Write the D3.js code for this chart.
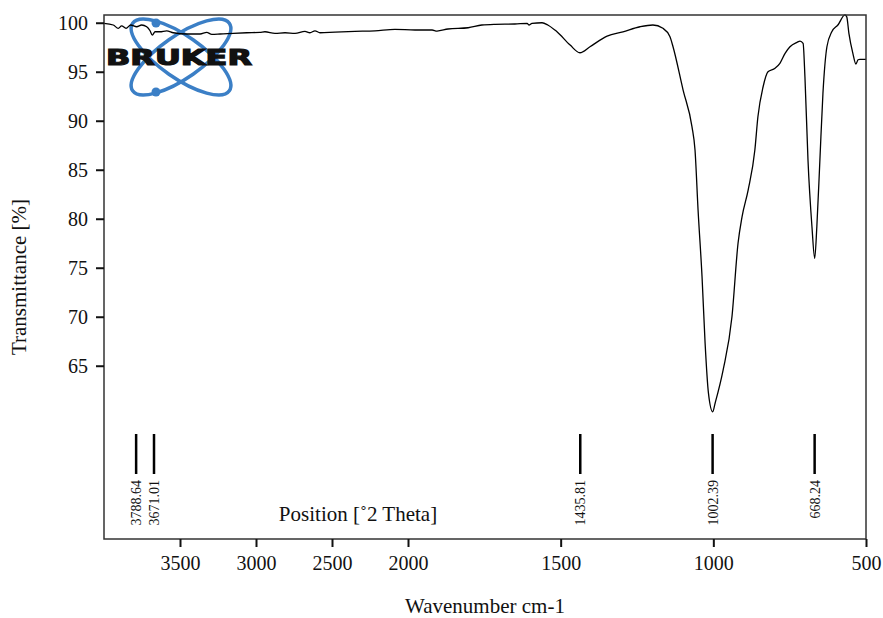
<!DOCTYPE html>
<html>
<head>
<meta charset="utf-8">
<script src="https://cdn.jsdelivr.net/npm/d3@7/dist/d3.min.js"></script>
<style>
  html, body { margin: 0; padding: 0; background: #fff; }
  svg { display: block; font-family: "Liberation Serif", "DejaVu Serif", serif; }
</style>
</head>
<body>
<svg id="chart" width="883" height="618"></svg>
<script>
// Spectrum: wavenumber (cm-1) and transmittance (%)
const wavenumbers = [4000,3939,3906,3884,3855,3824,3785,3752,3719,3697,3682,3664,3632,3588,3544,3456,3368,3324,3291,3237,3149,3061,2974,2941,2875,2809,2743,2678,2645,2612,2579,2480,2349,2217,2086,1977,1921,1905,1869,1803,1758,1715,1650,1610,1604,1594,1561,1542,1519,1512,1469,1437,1404,1348,1296,1240,1198,1165,1142,1132,1099,1070,1060,1050,1037,1027,1016,1002,994,968,939,919,906,886,864,854,837,821,798,782,765,749,726,716,706,700,690,677,668,661,651,641,628,612,592,569,563,556,543,533,526,520,500];
const transmittance = [99.94,99.77,99.43,99.69,99.43,99.77,99.59,99.77,99.59,99.18,98.74,99.08,99.08,99.18,98.98,98.85,98.85,99.02,98.82,98.85,98.92,98.98,99.02,99.08,98.92,98.98,98.92,99.12,98.98,99.18,98.98,99.05,99.12,99.18,99.33,99.26,99.26,99.15,99.36,99.49,99.77,99.84,99.87,99.94,99.77,99.94,100.0,99.77,99.26,99.08,97.72,96.94,97.55,98.64,99.08,99.59,99.77,99.43,98.57,97.55,93.13,89.39,87.01,80.89,74.08,67.32,62.2,60.3,61.2,64.56,70.0,77.52,80.2,82.93,87.01,90.41,93.47,95.0,95.35,95.86,96.88,97.55,98.0,98.13,97.9,94.49,85.99,79.18,75.96,79.18,85.99,92.8,97.55,99.08,99.77,100.8,100.6,98.92,96.88,95.79,96.22,96.27,96.27];

// Peak markers
const peakPositions = [3788.64, 3671.01, 1435.81, 1002.39, 668.24];
const peakLabels = ["3788.64", "3671.01", "1435.81", "1002.39", "668.24"];

// Axis ticks
const xTickValues = [3500, 3000, 2500, 2000, 1500, 1000, 500];
const yTickValues = [65, 70, 75, 80, 85, 90, 95, 100];

const svg = d3.select("#chart");
const pL = 104, pR = 866, pT = 15, pB = 539;

// FTIR-style x scale: expanded below 2000 cm-1
const x = d3.scaleLinear().domain([4000, 2000, 500]).range([pL, 408, pR]);
const y = d3.scaleLinear().domain([47.32, 100.79]).range([pB, pT]);

// Bruker logo (decoration)
const logo = svg.append("g");
const lcx = 181, lcy = 57;
[35, -35].forEach(a => {
  logo.append("ellipse")
    .attr("cx", lcx).attr("cy", lcy).attr("rx", 59).attr("ry", 21)
    .attr("transform", `rotate(${a},${lcx},${lcy})`)
    .attr("fill", "none").attr("stroke", "#3b7fc6").attr("stroke-width", 3.5);
});
logo.append("circle").attr("cx", 156).attr("cy", 23).attr("r", 4.5).attr("fill", "#3b7fc6");
logo.append("circle").attr("cx", 156).attr("cy", 92).attr("r", 4.5).attr("fill", "#3b7fc6");
logo.append("text")
  .attr("x", 106).attr("y", 65)
  .attr("textLength", 146).attr("lengthAdjust", "spacingAndGlyphs")
  .style("font-family", "'DejaVu Sans', sans-serif")
  .style("font-weight", "bold").style("font-size", "21px")
  .attr("fill", "#111").attr("stroke", "#111").attr("stroke-width", 1.2)
  .text("BRUKER");

// Clip
svg.append("clipPath").attr("id", "clip").append("rect")
  .attr("x", pL).attr("y", pT - 1).attr("width", pR - pL).attr("height", pB - pT + 1);

// Spectrum line
const pts = wavenumbers.map((w, i) => [w, transmittance[i]]);
svg.append("path")
  .datum(pts)
  .attr("clip-path", "url(#clip)")
  .attr("fill", "none").attr("stroke", "#000").attr("stroke-width", 1.3)
  .attr("d", d3.line().x(d => x(d[0])).y(d => y(d[1])).curve(d3.curveMonotoneX));

// Frame
svg.append("rect")
  .attr("x", pL).attr("y", pT).attr("width", pR - pL).attr("height", pB - pT)
  .attr("fill", "none").attr("stroke", "#333").attr("stroke-width", 1.5);

// X axis
const xAxis = svg.append("g").attr("transform", `translate(0,${pB})`)
  .call(d3.axisBottom(x).tickValues(xTickValues).tickSize(8).tickPadding(9).tickFormat(d3.format("d")));
xAxis.select(".domain").remove();
xAxis.selectAll(".tick line").attr("stroke", "#111").attr("stroke-width", 2);
xAxis.selectAll(".tick text").style("font-family", "'Liberation Serif', serif").style("font-size", "20px").attr("fill", "#111");

// Y axis
const yAxis = svg.append("g").attr("transform", `translate(${pL},0)`)
  .call(d3.axisLeft(y).tickValues(yTickValues).tickSize(8).tickPadding(8).tickFormat(d3.format("d")));
yAxis.select(".domain").remove();
yAxis.selectAll(".tick line").attr("stroke", "#111").attr("stroke-width", 2);
yAxis.selectAll(".tick text").style("font-family", "'Liberation Serif', serif").style("font-size", "20px").attr("fill", "#111");

// Peak markers
const peaks = svg.append("g");
peakPositions.forEach((p, i) => {
  peaks.append("line")
    .attr("x1", x(p)).attr("x2", x(p)).attr("y1", 434).attr("y2", 474)
    .attr("stroke", "#000").attr("stroke-width", 2.5);
  peaks.append("text")
    .attr("transform", `translate(${x(p)},480) rotate(-90)`)
    .attr("text-anchor", "end").attr("dy", "0.35em")
    .style("font-size", "14px").attr("fill", "#111")
    .text(peakLabels[i]);
});

// Titles
svg.append("text").attr("x", 358).attr("y", 521).attr("text-anchor", "middle")
  .style("font-size", "21px").attr("fill", "#111").text("Position [˚2 Theta]");
svg.append("text").attr("x", 485).attr("y", 613).attr("text-anchor", "middle")
  .style("font-size", "21px").attr("fill", "#111").text("Wavenumber cm-1");
svg.append("text").attr("transform", "translate(26,277) rotate(-90)").attr("text-anchor", "middle")
  .style("font-size", "21px").attr("fill", "#111").text("Transmittance [%]");
</script>
</body>
</html>
